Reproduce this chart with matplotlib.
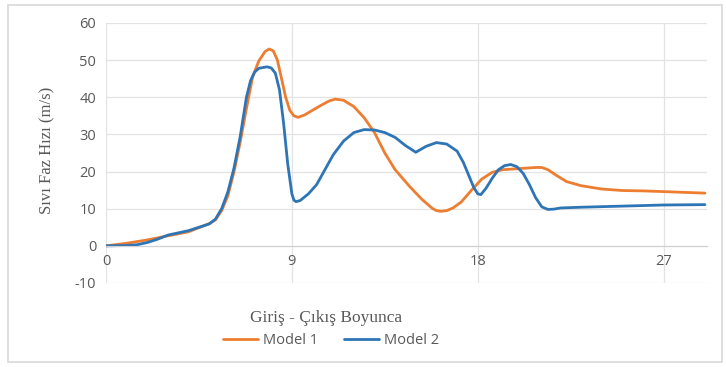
import matplotlib
matplotlib.use("Agg")
import matplotlib.pyplot as plt
from matplotlib.patches import Rectangle

plt.rcParams["axes.unicode_minus"] = False

x_model1 = [0, 1, 2, 3, 4, 5, 5.3, 5.6, 5.9, 6.2, 6.5, 6.8, 7.1, 7.4, 7.7, 7.9, 8.1, 8.3, 8.5, 8.7,
            8.9, 9.1, 9.3, 9.6, 10.0, 10.4, 10.8, 11.1, 11.5, 12.0, 12.5, 13.0, 13.5, 14.0, 14.7,
            15.3, 15.8, 16.0, 16.2, 16.5, 16.8, 17.2, 17.7, 18.2, 18.7, 19.2, 20.0, 20.8, 21.1,
            21.4, 21.8, 22.3, 23, 24, 25, 26, 27, 28, 29]
y_model1 = [0, 0.7, 1.6, 2.7, 3.8, 6.0, 7.0, 9.5, 13.5, 20, 28, 37, 45.5, 49.8, 52.3, 53, 52.5,
            50, 45, 40, 36.5, 35, 34.6, 35.2, 36.5, 37.8, 39.0, 39.5, 39.2, 37.5, 34.5, 30.5, 25,
            20.5, 16, 12.5, 10.1, 9.5, 9.3, 9.5, 10.2, 11.8, 15, 18, 19.8, 20.5, 20.8, 21.1, 21.1,
            20.5, 19.0, 17.3, 16.2, 15.3, 14.9, 14.8, 14.6, 14.4, 14.2]

x_model2 = [0, 1, 1.5, 2, 2.5, 3, 3.5, 4, 4.5, 5, 5.3, 5.6, 5.9, 6.2, 6.5, 6.8, 7.0, 7.2, 7.4, 7.8,
            8.0, 8.2, 8.4, 8.6, 8.8, 9.0, 9.1, 9.2, 9.4, 9.8, 10.2, 10.6, 11, 11.5, 12, 12.5, 13,
            13.5, 14, 14.5, 15, 15.5, 16, 16.5, 17, 17.3, 17.6, 17.8, 18.0, 18.15, 18.4, 18.7, 19,
            19.3, 19.6, 19.9, 20.2, 20.5, 20.8, 21.1, 21.4, 21.7, 22, 23, 25, 27, 29]
y_model2 = [0, 0.1, 0.3, 0.9, 1.8, 2.9, 3.5, 4.1, 5.0, 5.9, 7.2, 10, 14.5, 21, 29.5, 40, 44.5,
            46.8, 47.8, 48.2, 47.9, 46.5, 42, 33, 22, 14, 12.3, 11.9, 12.2, 14, 16.5, 20.5, 24.5,
            28.2, 30.5, 31.3, 31.2, 30.5, 29.2, 27, 25.2, 26.8, 27.8, 27.4, 25.5, 22.5, 18.5, 15.8,
            14, 13.8, 15.5, 18.2, 20.5, 21.6, 21.9, 21.3, 19.5, 16.5, 13, 10.5, 9.8, 9.9, 10.2,
            10.4, 10.7, 11.0, 11.1]

x_ticks = [0, 9, 18, 27]
y_ticks = [-10, 0, 10, 20, 30, 40, 50, 60]
series_names = ["Model 1", "Model 2"]

txt = "#595959"
sans = ["Open Sans", "DejaVu Sans"]
fig = plt.figure(figsize=(7.26, 3.67), dpi=100)
fig.patches.append(Rectangle((8/726, 1-362/367), (722-8)/726, (362-5)/367, transform=fig.transFigure,
                             fill=False, edgecolor="#d9d9d9", linewidth=1.2))
ax = fig.add_axes([106/726, 1-283/367, (707-106)/726, (283-23)/367])

ax.plot(x_model1, y_model1, color="#ED7D31", lw=2.0, solid_joinstyle="round", solid_capstyle="round",
        label=series_names[0])
ax.plot(x_model2, y_model2, color="#2E75B6", lw=2.0, solid_joinstyle="round", solid_capstyle="round",
        label=series_names[1])

ax.set_xlim(0, 29.1)
ax.set_ylim(-10, 60)
ax.set_xticks(x_ticks)
ax.set_yticks(y_ticks)
ax.grid(True, color="#e3e3e3", lw=0.9)
ax.set_axisbelow(True)
for s in ["top", "right", "left"]:
    ax.spines[s].set_visible(False)
ax.spines["bottom"].set_position(("data", 0))
ax.spines["bottom"].set_color("#d0d0d0")
ax.tick_params(length=0, labelsize=10.5, colors=txt, pad=7)
ax.tick_params(axis="x", pad=6)
for lab in ax.get_xticklabels() + ax.get_yticklabels():
    lab.set_family(sans)

fig.text(47/726, 1-150/367, "Sıvı Faz Hızı (m/s)", rotation=90, ha="center", va="center",
         family="Liberation Serif", fontsize=12, color=txt)
fig.text(326/726, 1-318/367, "Giriş - Çıkış Boyunca", ha="center", va="center",
         family="Liberation Serif", fontsize=12.5, color=txt)
fig.legend(loc="center", bbox_to_anchor=(331/726, 1-341/367), ncol=2, frameon=False,
           prop={"family": sans, "size": 10.5}, labelcolor=txt, handlelength=2.4,
           handletextpad=0.3, columnspacing=1.8)

fig.savefig("out.png", dpi=100)
